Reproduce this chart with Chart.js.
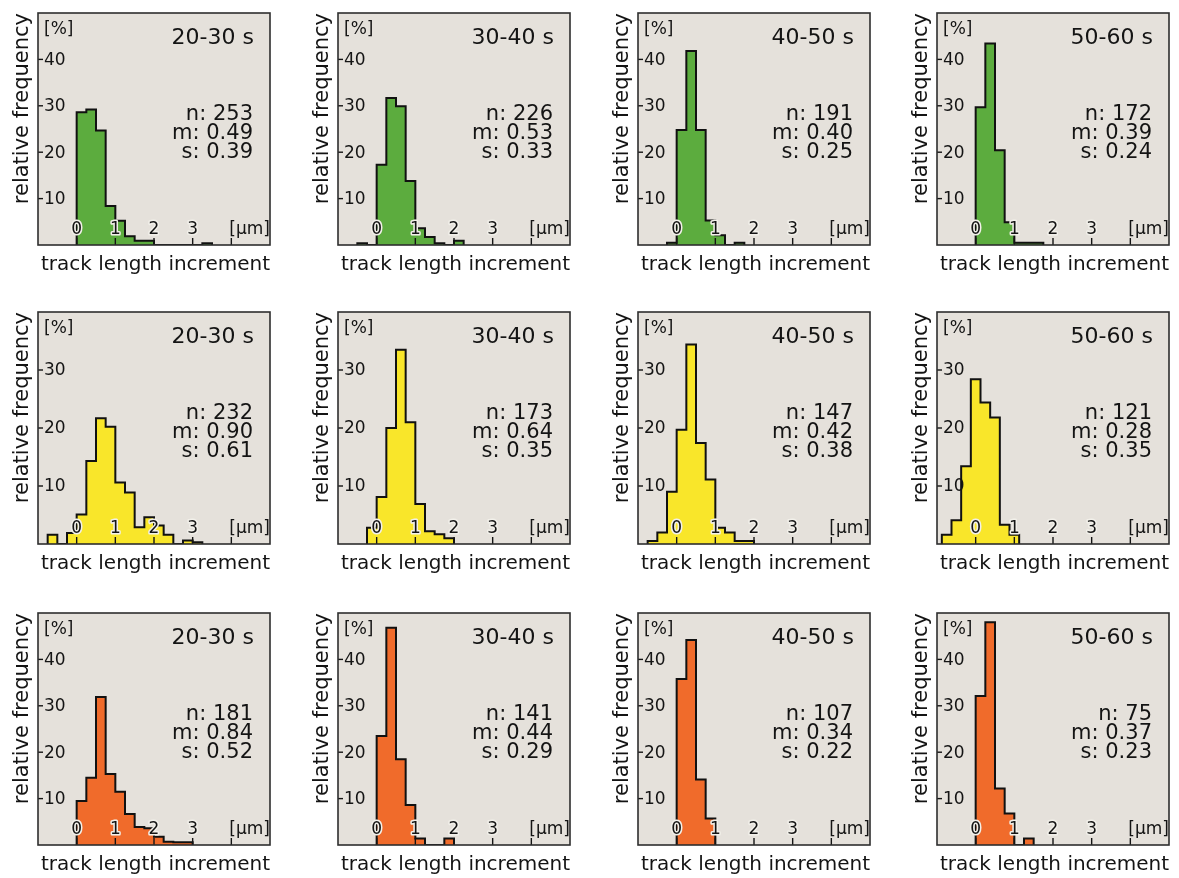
<!DOCTYPE html>
<html>
<head>
<meta charset="utf-8">
<title>track length increment</title>
<script src="https://cdn.jsdelivr.net/npm/chart.js@4.4.1/dist/chart.umd.min.js"></script>
<style>
    body { margin: 0; background: #fff; }
    #wrap { position: relative; width: 1179px; height: 878px; overflow: hidden; }
    #wrap canvas { position: absolute; }
</style>
</head>
<body>
<div id="wrap"></div>
<script>
// histogram bins are 0.25 µm wide, every series starts at the left edge in *Start
const binWidth = 0.25;
const periods = ["20-30 s", "30-40 s", "40-50 s", "50-60 s"];
const xTickValues = [0, 1, 2, 3];
const xTickLabels = ["0", "1", "2", "3"];
const xUnitValue = 4;
const xUnitLabel = "[µm]";
const yUnitLabel = "[%]";
const yMaxByRow = [50, 40, 50];
const yTicksByRow = [[10, 20, 30, 40], [10, 20, 30], [10, 20, 30, 40]];

// green row
const greenStart = [0, -0.5, -0.25, 0];
const green2030 = [28.6, 29.2, 24.7, 8.4, 5.2, 1.9, 0.9, 0.9, 0, 0, 0, 0, 0, 0.4];
const green3040 = [0.4, 0, 17.3, 31.7, 29.9, 13.8, 3.6, 1.7, 0.4, 0, 0.9];
const green4050 = [0.5, 24.8, 41.8, 24.8, 5.3, 2.1, 0, 0.5];
const green5060 = [29.7, 43.4, 20.4, 4.9, 0.5, 0.5, 0.5];

// yellow row
const yellowStart = [-0.75, -0.25, -0.75, -0.875];
const yellow2030 = [1.6, 0, 1.9, 5.1, 14.3, 21.7, 20.2, 10.6, 8.9, 2.9, 4.6, 3.2, 1.6, 0, 0.6, 0.3];
const yellow3040 = [2.8, 8.1, 20.0, 33.5, 21.0, 6.9, 2.2, 1.7, 1.0];
const yellow4050 = [0.5, 2.0, 9.0, 19.7, 34.4, 17.4, 11.1, 2.8, 2.0, 0.5, 0.5];
const yellow5060 = [1.6, 4.1, 13.4, 28.4, 24.4, 21.8, 3.3, 1.6];

// orange row
const orangeStart = [0, 0, 0, 0];
const orange2030 = [9.5, 14.5, 31.9, 15.3, 11.5, 6.7, 3.9, 3.6, 1.8, 0.7, 0.6, 0.6];
const orange3040 = [23.5, 46.8, 18.5, 8.6, 1.4, 0, 0, 1.4];
const orange4050 = [35.8, 44.2, 14.1, 5.7];
const orange5060 = [32.1, 48.0, 12.2, 6.8, 0, 1.4];

// n, mean and sd printed in each panel
const nByRow = [[253, 226, 191, 172], [232, 173, 147, 121], [181, 141, 107, 75]];
const meanByRow = [["0.49", "0.53", "0.40", "0.39"], ["0.90", "0.64", "0.42", "0.28"], ["0.84", "0.44", "0.34", "0.37"]];
const sdByRow = [["0.39", "0.33", "0.25", "0.24"], ["0.61", "0.35", "0.38", "0.35"], ["0.52", "0.29", "0.22", "0.23"]];

const rows = [
    {color: "#5cac3e", start: greenStart, series: [green2030, green3040, green4050, green5060]},
    {color: "#f9e62a", start: yellowStart, series: [yellow2030, yellow3040, yellow4050, yellow5060]},
    {color: "#f06b2b", start: orangeStart, series: [orange2030, orange3040, orange4050, orange5060]}
];

// layout
const FONT = "'DejaVu Sans', sans-serif";
const INK = "#141414";
const BOX_BG = "#e5e1db";
const boxLefts = [38, 338, 638, 937];
const boxTops = [13, 312, 613];
const PAD = {left: 6, right: 4, top: 6, bottom: 2};
const Y_TITLE_W = 28;   // 21px * 1.2 + 2.8
const CANVAS_W = 270, CANVAS_H = 272;

document.addEventListener("DOMContentLoaded", buildPanels);

function histogramPoints(start, values) {
    const pts = [{x: start, y: 0}];
    values.forEach((v, i) => pts.push({x: start + i * binWidth, y: v}));
    pts.push({x: start + values.length * binWidth, y: 0});
    return pts;
}

const panelDecor = {
    id: "panelDecor",
    beforeDraw(chart) {
        const {ctx, chartArea: a} = chart;
        ctx.save();
        ctx.fillStyle = BOX_BG;
        ctx.fillRect(a.left, a.top, a.width, a.height);
        ctx.restore();
    },
    afterDatasetsDraw(chart, args, opts) {
        const {ctx, chartArea: a, scales: {x, y}} = chart;
        ctx.save();
        ctx.strokeStyle = INK;
        ctx.fillStyle = INK;
        ctx.lineWidth = 1.4;

        // y ticks inside the box
        ctx.font = "17px " + FONT;
        ctx.textAlign = "left";
        ctx.textBaseline = "middle";
        opts.yTicks.forEach(v => {
            const py = y.getPixelForValue(v);
            ctx.beginPath();
            ctx.moveTo(a.left, py);
            ctx.lineTo(a.left + 5, py);
            ctx.stroke();
            ctx.fillText(String(v), a.left + 6, py + 1);
        });

        // x ticks inside the box
        ctx.textBaseline = "alphabetic";
        const tickVals = xTickValues.concat([xUnitValue]);
        tickVals.forEach(v => {
            const px = x.getPixelForValue(v);
            ctx.beginPath();
            ctx.moveTo(px, a.bottom);
            ctx.lineTo(px, a.bottom - 7);
            ctx.stroke();
        });
        ctx.textAlign = "center";
        ctx.lineJoin = "round";
        xTickValues.forEach((v, i) => {
            const px = x.getPixelForValue(v);
            ctx.strokeStyle = "#f2f0ea";
            ctx.lineWidth = 3;
            ctx.strokeText(xTickLabels[i], px, a.bottom - 11);
            ctx.fillText(xTickLabels[i], px, a.bottom - 11);
        });
        ctx.textAlign = "left";
        ctx.fillText(xUnitLabel, x.getPixelForValue(xUnitValue) - 2, a.bottom - 11);

        ctx.fillText(yUnitLabel, a.left + 6, a.top + 21);

        // period + statistics
        ctx.textAlign = "right";
        ctx.font = "22px " + FONT;
        ctx.fillText(opts.period, a.right - 16, a.top + 31);
        ctx.font = "21px " + FONT;
        ctx.fillText("n: " + opts.n, a.right - 17, a.top + 107);
        ctx.fillText("m: " + opts.m, a.right - 17, a.top + 126);
        ctx.fillText("s: " + opts.s, a.right - 17, a.top + 145);
        ctx.restore();
    },
    afterDraw(chart) {
        const {ctx, chartArea: a} = chart;
        ctx.save();
        ctx.strokeStyle = "#2e2e2e";
        ctx.lineWidth = 1.6;
        ctx.strokeRect(a.left, a.top, a.width, a.height);
        ctx.restore();
    }
};

function buildPanels() {
    const wrap = document.getElementById("wrap");
    rows.forEach((row, r) => {
        row.series.forEach((values, c) => {
            const canvas = document.createElement("canvas");
            canvas.width = CANVAS_W;
            canvas.height = CANVAS_H;
            canvas.style.left = (boxLefts[c] - PAD.left - Y_TITLE_W) + "px";
            canvas.style.top = (boxTops[r] - PAD.top) + "px";
            wrap.appendChild(canvas);
            makeChart(canvas, row, r, c, values);
        });
    });
}

function makeChart(canvas, row, r, c, values) {
    new Chart(canvas, {
        type: "line",
        data: {
            datasets: [{
                data: histogramPoints(row.start[c], values),
                stepped: true,
                fill: "origin",
                backgroundColor: row.color,
                borderColor: "#111",
                borderWidth: 2,
                pointRadius: 0
            }]
        },
        options: {
            responsive: false,
            animation: false,
            events: [],
            layout: {padding: PAD},
            plugins: {
                legend: {display: false},
                tooltip: {enabled: false},
                panelDecor: {
                    yTicks: yTicksByRow[r],
                    period: periods[c],
                    n: nByRow[r][c],
                    m: meanByRow[r][c],
                    s: sdByRow[r][c]
                }
            },
            scales: {
                x: {
                    type: "linear",
                    min: -1,
                    max: 5,
                    ticks: {display: false},
                    grid: {display: false, drawTicks: false},
                    border: {display: false},
                    title: {
                        display: true,
                        text: "track length increment",
                        align: "end",
                        color: INK,
                        font: {family: FONT, size: 20, lineHeight: 1.2},
                        padding: {top: 8, bottom: 0}
                    }
                },
                y: {
                    type: "linear",
                    min: 0,
                    max: yMaxByRow[r],
                    ticks: {display: false},
                    grid: {display: false, drawTicks: false},
                    border: {display: false},
                    title: {
                        display: true,
                        text: "relative frequency",
                        align: "end",
                        color: INK,
                        font: {family: FONT, size: 21, lineHeight: 1.2},
                        padding: {top: 0, bottom: 2.8}
                    }
                }
            }
        },
        plugins: [panelDecor]
    });
}
</script>
</body>
</html>
